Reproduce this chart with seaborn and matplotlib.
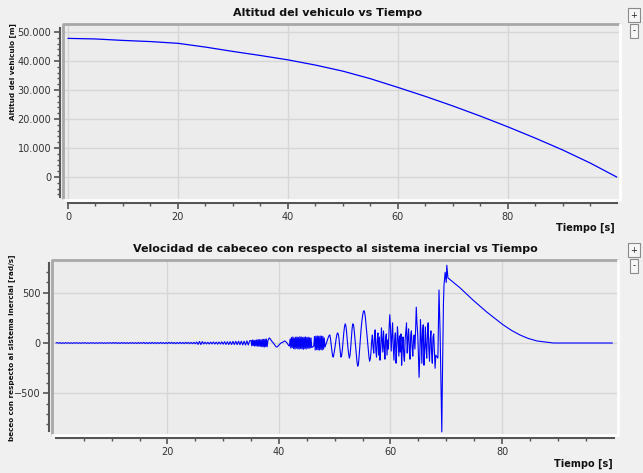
import numpy as np
import seaborn as sns
import matplotlib.pyplot as plt

# ============================================
# Altitud y velocidad de cabeceo vs tiempo
# (valores leidos a ojo de la captura original)
# ============================================

# --- Altitud del vehiculo ---
tiempo_alt = [0, 5, 10, 15, 20, 25, 30, 35, 40, 45, 50, 55, 60,
              65, 70, 75, 80, 85, 90, 95, 99.8]
altitud = [47800, 47600, 47100, 46700, 46100, 44800, 43300, 41900, 40400,
           38600, 36500, 33900, 30900, 27800, 24500, 21000, 17300, 13400,
           9300, 4800, 0]

# --- Velocidad de cabeceo, tramo tranquilo: cada 0.25 s de 0 a 34.75 s ---
cabeceo_calmo = [
    # 0 - 5 s
    0, 4, -3, 4, -4, 3, -4, 4, -3, 4, -4, 3, -4, 4, -3, 4, -4, 3, -4, 4,
    # 5 - 10 s
    -3, 4, -4, 3, -4, 4, -3, 4, -4, 3, -4, 4, -3, 4, -4, 3, -4, 4, -3, 4,
    # 10 - 15 s
    -4, 5, -4, 5, -5, 4, -5, 5, -4, 5, -5, 4, -5, 5, -4, 5, -5, 4, -5, 5,
    # 15 - 20 s
    -5, 5, -4, 6, -5, 5, -6, 5, -5, 6, -5, 5, -6, 5, -5, 6, -5, 5, -6, 5,
    # 20 - 25 s
    -6, 6, -5, 7, -6, 6, -7, 6, -6, 7, -6, 6, -7, 7, -6, 7, -7, 6, -7, 7,
    # 25 - 30 s
    -8, 10, -14, 15, -15, 14, -9, 8, -9, 8, -10, 9, -9, 10, -10, 9, -11, 10, -10, 11,
    # 30 - 35 s
    -12, 13, -14, 13, -15, 14, -15, 16, -15, 17, -16, 18, -17, 18, -19, 18, -20, 21, -20, 22,
]

# --- tramo activo: cada 0.125 s de 35 a 68.125 s ---
cabeceo_activo = [
    25, -28, 30, -26, 28, -30, 27, -29,        # 35
    30, -32, 34, -31, 33, -35, 32, -34,        # 36
    35, -38, 36, -40, 38, -36, 40, -38,        # 37
    20, 35, 50, 45, 35, 25, 15, 8,             # 38
    0, -10, -20, -30, -38, -40, -35, -28,      # 39
    -20, -12, -5, 0, 3, 6, 10, 15,             # 40
    20, 18, 12, 5, -5, -15, -25, -30,          # 41
    40, -50, 55, -45, 60, -55, 50, -60,        # 42
    58, -52, 60, -58, 55, -60, 62, -55,        # 43
    60, -58, 55, -62, 58, -55, 60, -60,        # 44
    55, -50, 58, -55, 52, -48, 50, -45,        # 45
    -40, -35, -30, 65, -70, 68, -65, 70,       # 46
    -68, 66, -70, 70, -65, 68, -70, 66,        # 47
    -60, 50, -40, -20, 0, 20, 40, 60,          # 48
    75, 80, 40, -20, -80, -130, -140, -100,    # 49
    -60, -10, 40, 80, 100, 90, 50, -20,        # 50
    -90, -140, -120, -60, 20, 100, 160, 190,   # 51
    170, 110, 30, -50, -110, -150, -120, -40,  # 52
    60, 150, 190, 180, 120, 40, -50, -130,     # 53
    -190, -230, -210, -130, -30, 60, 150, 220, # 54
    270, 310, 320, 300, 250, 180, 100, 20,     # 55
    -60, -130, -180, -160, -90, 20, 80, -40,   # 56
    -100, 60, 130, -80, -140, 40, 100, -120,   # 57
    60, -170, -60, 150, 20, -90, 120, -40,     # 58
    -160, 50, 90, -120, 30, -60, 140, 280,     # 59
    150, -80, 60, 200, -40, -170, 30, 100,     # 60
    -200, -50, 160, 40, -130, 70, -90, 90,     # 61
    -220, -40, 60, -120, -180, 30, 120, 200,   # 62
    -100, 50, 140, -60, -160, 80, 120, -40,    # 63
    -130, 30, 80, -60, 120, 355, 200, 100,     # 64
    -100, -340, -150, 230, 60, -200, 100, 180, # 65
    -220, -80, 160, -40, -150, 90, 200, -60,   # 66
    -180, 40, 120, -100, -200, 60, 90, -80,    # 67
    -250, -120,                                # 68
]

# --- pico final y caida suave ---
tiempo_cola = [68.5, 68.7, 68.9, 69.1, 69.2, 69.3, 69.5, 69.6, 69.8, 70.0,
               70.1, 70.3, 72.5, 74.8, 77.3, 80.2, 81.7, 83.2, 84.7, 86.3,
               89.2, 92.0, 99.8]
cabeceo_cola = [-150, 525, 100, -585, -880, -400, 400, 575, 700, 600,
                770, 645, 545, 425, 305, 180, 125, 80, 45, 20,
                0, 0, 0]

tiempo_cab = (list(np.arange(len(cabeceo_calmo)) * 0.25)
              + list(35 + np.arange(len(cabeceo_activo)) * 0.125)
              + tiempo_cola)
cabeceo = cabeceo_calmo + cabeceo_activo + cabeceo_cola

# --- estilo tipo Qwt ---
sns.set_style("white")
plt.rcParams["font.family"] = ["DejaVu Sans"]
bg = "#f0f0f0"
canvas = "#ececec"
grid_c = "#d6d6d6"
axis_c = "#555555"

fig = plt.figure(figsize=(6.43, 4.73), dpi=100, facecolor=bg)
W, H = 643, 473


def px_axes(left, top, right, bottom):
    return fig.add_axes([left / W, 1 - bottom / H, (right - left) / W, (bottom - top) / H])


def style_axes(ax, xbounds, ybounds):
    ax.set_facecolor(canvas)
    ax.grid(True, which="major", color=grid_c, lw=1)
    ax.set_axisbelow(True)
    for s in ["top", "right"]:
        ax.spines[s].set_visible(False)
    for s in ["left", "bottom"]:
        ax.spines[s].set_position(("outward", 2.5))
        ax.spines[s].set_color(axis_c)
        ax.spines[s].set_linewidth(1.5)
    ax.spines["bottom"].set_bounds(*xbounds)
    ax.spines["left"].set_bounds(*ybounds)
    ax.tick_params(which="both", left=True, bottom=True, direction="out")
    ax.tick_params(which="major", length=4, width=1.2, color=axis_c,
                   labelsize=7, labelcolor="#333333", pad=2)
    ax.tick_params(which="minor", length=2.5, width=1, color=axis_c)
    # marco hundido del lienzo
    ax.plot([0, 0, 1], [0, 1, 1], transform=ax.transAxes, color="#a8a8a8",
            lw=2, clip_on=False, zorder=5)
    ax.plot([0, 1, 1], [0, 0, 1], transform=ax.transAxes, color="white",
            lw=2, clip_on=False, zorder=5)


# --- Grafico 1: altitud ---
ax1 = px_axes(63, 24, 620, 200)
sns.lineplot(x=tiempo_alt, y=altitud, ax=ax1, color="#0000ff", lw=0.9,
             estimator=None, sort=False)
ax1.set_xlim(-0.9, 100.4)
ax1.set_ylim(-7930, 52760)
ax1.set_xticks([0, 20, 40, 60, 80])
ax1.set_xticks(np.arange(5, 100, 5), minor=True)
ax1.set_yticks([0, 10000, 20000, 30000, 40000, 50000])
ax1.set_yticklabels(["0", "10.000", "20.000", "30.000", "40.000", "50.000"])
ax1.set_yticks(np.arange(-6000, 52000, 2000), minor=True)
style_axes(ax1, (0, 99.8), (-7000, 51400))

# --- Grafico 2: velocidad de cabeceo ---
ax2 = px_axes(52, 260, 618, 435)
sns.lineplot(x=tiempo_cab, y=cabeceo, ax=ax2, color="#0000ff", lw=0.8,
             estimator=None, sort=False)
ax2.set_xlim(-0.7, 100.8)
ax2.set_ylim(-911, 822)
ax2.set_xticks([20, 40, 60, 80])
ax2.set_xticks([5, 10, 15, 25, 30, 35, 45, 50, 55, 65, 70, 75, 85, 90, 95], minor=True)
ax2.set_yticks([-500, 0, 500])
ax2.set_yticks(np.arange(-800, 800, 100), minor=True)
style_axes(ax2, (0, 100), (-870, 790))

# --- textos ---
bold = dict(fontweight="bold", color="#111111")
fig.text(328 / W, 1 - 13 / H, "Altitud del vehiculo vs Tiempo", ha="center",
         va="center", fontsize=8, **bold)
fig.text(335 / W, 1 - 249 / H,
         "Velocidad de cabeceo con respecto al sistema inercial vs Tiempo",
         ha="center", va="center", fontsize=8, **bold)
fig.text(13 / W, 1 - 72 / H, "Altitud del vehiculo [m]", rotation=90,
         ha="center", va="center", fontsize=5.2, **bold)
fig.text(12 / W, 1 - 348 / H, "beceo con respecto al sistema inercial [rad/s]",
         rotation=90, ha="center", va="center", fontsize=5.2, **bold)
fig.text(615 / W, 1 - 228 / H, "Tiempo [s]", ha="right", va="center",
         fontsize=7, **bold)
fig.text(613 / W, 1 - 464 / H, "Tiempo [s]", ha="right", va="center",
         fontsize=7, **bold)

# botones + / -
btn = dict(boxstyle="square,pad=0.25", fc="#f6f6f6", ec="#8a8a8a", lw=0.8)
for x, y, s in [(634, 15, "+"), (634, 31, "-"), (634, 250, "+"), (634, 266, "-")]:
    fig.text(x / W, 1 - y / H, s, ha="center", va="center", fontsize=6,
             color="#222222", bbox=btn)

plt.savefig("out.png", dpi=100, facecolor=bg)
